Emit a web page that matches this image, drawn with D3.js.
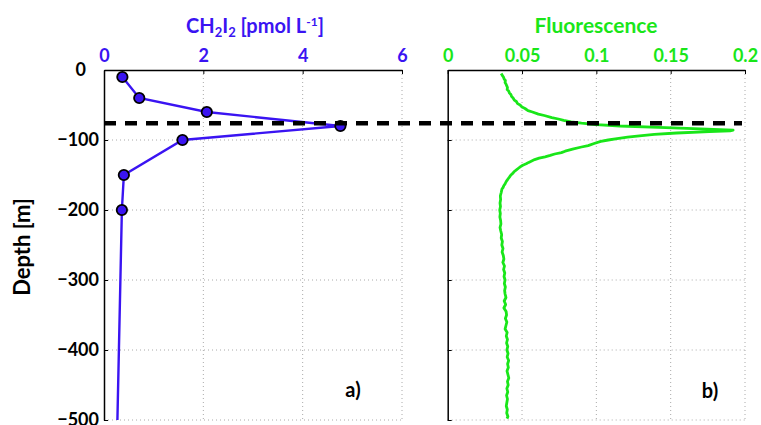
<!DOCTYPE html>
<html>
<head>
<meta charset="utf-8">
<script src="https://cdn.jsdelivr.net/npm/d3@7"></script>
<style>
  body { margin: 0; background: #fff; }
  text { font-family: Lato, "Open Sans", sans-serif; font-weight: 700; }
</style>
</head>
<body>
<div id="chart"></div>
<script>
// CH2I2 profile (pmol/L vs depth m)
var ch2i2Depth = [-10, -40, -60, -80, -100, -150, -200, -500];
var ch2i2Value = [0.37, 0.71, 2.07, 4.76, 1.58, 0.40, 0.36, 0.27];
var ch2i2Marked = [true, true, true, true, true, true, true, false];

// fluorescence profile
var fluoDepth = [-5, -8, -10, -13, -15, -18, -20, -23, -25, -28, -30, -33, -35, -38, -40, -43, -45, -48, -50,
  -53, -55, -58, -60, -63, -65, -68, -70, -72, -74, -76, -78, -80, -82, -84, -86, -87, -88, -90, -92, -94,
  -96, -98, -100, -102, -105, -108, -110, -113, -116, -118, -120, -122, -124, -126, -128, -130, -132, -134,
  -136, -138, -140, -143, -145, -148, -150, -153, -155, -158, -160, -163, -165, -168, -170, -175, -180, -185,
  -190, -195, -200, -205, -210, -215, -220, -225, -230, -235, -240, -245, -250, -255, -260, -265, -270,
  -275, -280, -285, -290, -295, -300, -305, -310, -315, -320, -325, -330, -335, -340, -345, -350, -355,
  -360, -365, -370, -375, -380, -385, -390, -395, -400, -405, -410, -415, -420, -425, -430, -435, -440,
  -445, -450, -455, -460, -465, -470, -475, -480, -485, -490, -495, -498];
var fluoValue = [0.0360, 0.0368, 0.0375, 0.0380, 0.0388, 0.0386, 0.0392, 0.0398, 0.0402, 0.0400, 0.0410, 0.0416,
  0.0425, 0.0430, 0.0440, 0.0448, 0.0462, 0.0470, 0.0487, 0.0500, 0.0520, 0.0540, 0.0570, 0.0610, 0.0650,
  0.0700, 0.0745, 0.0780, 0.0830, 0.0900, 0.1000, 0.1160, 0.1420, 0.1700, 0.1920, 0.1900, 0.1760, 0.1540,
  0.1390, 0.1290, 0.1210, 0.1140, 0.1080, 0.1030, 0.0985, 0.0945, 0.0900, 0.0840, 0.0790, 0.0765, 0.0720,
  0.0690, 0.0655, 0.0615, 0.0585, 0.0565, 0.0545, 0.0528, 0.0505, 0.0490, 0.0478, 0.0460, 0.0448, 0.0436,
  0.0425, 0.0415, 0.0408, 0.0398, 0.0392, 0.0385, 0.0378, 0.0372, 0.0365, 0.0360, 0.0354, 0.0356, 0.0352,
  0.0355, 0.0350, 0.0354, 0.0351, 0.0356, 0.0358, 0.0352, 0.0357, 0.0363, 0.0360, 0.0368, 0.0364, 0.0372,
  0.0366, 0.0374, 0.0378, 0.0371, 0.0382, 0.0376, 0.0384, 0.0379, 0.0386, 0.0381, 0.0388, 0.0383, 0.0386,
  0.0392, 0.0380, 0.0390, 0.0378, 0.0393, 0.0396, 0.0388, 0.0398, 0.0392, 0.0386, 0.0400, 0.0394, 0.0402,
  0.0396, 0.0404, 0.0398, 0.0406, 0.0400, 0.0410, 0.0403, 0.0408, 0.0399, 0.0405, 0.0411, 0.0402, 0.0407,
  0.0398, 0.0404, 0.0396, 0.0402, 0.0398, 0.0394, 0.0401, 0.0397, 0.0405, 0.0399, 0.0402, 0.0397];

var mldDepth = -76;

var depthTicks = [0, -100, -200, -300, -400, -500];
var ch2i2Ticks = [0, 2, 4, 6];
var fluoTicks = [0, 0.05, 0.1, 0.15, 0.2];

var blue = "#3a14f2", green = "#19e619";
var W = 761, H = 425;
var plotTop = 70, plotBottom = 420;

var svg = d3.select("#chart").append("svg")
  .attr("width", W).attr("height", H);

var y = d3.scaleLinear().domain([0, -500]).range([plotTop, plotBottom]);
var xA = d3.scaleLinear().domain([0, 6]).range([104, 402]);
var xB = d3.scaleLinear().domain([0, 0.2]).range([447.7, 745]);

function panel(x, ticks, color, fmt, showY) {
  var g = svg.append("g");
  var x0 = x.range()[0], x1 = x.range()[1];
  // grid
  g.selectAll(".gx").data(ticks.slice(1)).enter().append("line")
    .attr("x1", function(d) { return x(d); }).attr("x2", function(d) { return x(d); })
    .attr("y1", plotTop).attr("y2", plotBottom)
    .attr("stroke", "#aaa").attr("stroke-width", 1).attr("stroke-dasharray", "1,3");
  g.selectAll(".gy").data(depthTicks.slice(1)).enter().append("line")
    .attr("x1", x0).attr("x2", x1)
    .attr("y1", function(d) { return y(d); }).attr("y2", function(d) { return y(d); })
    .attr("stroke", "#aaa").attr("stroke-width", 1).attr("stroke-dasharray", "1,3");

  // top axis
  var ax = g.append("g").attr("transform", "translate(0," + plotTop + ")")
    .call(d3.axisTop(x).tickValues(ticks).tickSizeInner(-4).tickSizeOuter(0).tickPadding(8).tickFormat(fmt));
  ax.select(".domain").attr("stroke", "#000").attr("stroke-width", 1.5);
  ax.selectAll(".tick line").attr("stroke", "#000");
  ax.selectAll(".tick text").attr("fill", color).style("font-size", "18px");

  // left axis
  var ay = g.append("g").attr("transform", "translate(" + x0 + ",0)")
    .call(d3.axisLeft(y).tickValues(depthTicks).tickSizeInner(-4).tickSizeOuter(0).tickPadding(5));
  ay.select(".domain").attr("stroke", "#000").attr("stroke-width", 1.5);
  ay.selectAll(".tick line").attr("stroke", "#000");
  ay.selectAll(".tick text").attr("fill", "#000").style("font-size", "18px");
  if (!showY) ay.selectAll(".tick text").remove();
  else ay.selectAll(".tick text").filter(function(d) { return d === 0; }).attr("dx", -13);
  return g;
}

var gA = panel(xA, ch2i2Ticks, blue, d3.format("d"), true);
var gB = panel(xB, fluoTicks, green, function(d) { return d === 0 ? "0" : String(d); }, false);

// fluorescence line
var fluoPts = fluoDepth.map(function(d, i) { return [fluoValue[i], d]; });
gB.append("path").datum(fluoPts)
  .attr("fill", "none").attr("stroke", green).attr("stroke-width", 2.8)
  .attr("stroke-linejoin", "round")
  .attr("d", d3.line().x(function(d) { return xB(d[0]); }).y(function(d) { return y(d[1]); }));

// CH2I2 line
var chPts = ch2i2Depth.map(function(d, i) { return [ch2i2Value[i], d, ch2i2Marked[i]]; });
gA.append("path").datum(chPts)
  .attr("fill", "none").attr("stroke", blue).attr("stroke-width", 2.4)
  .attr("d", d3.line().x(function(d) { return xA(d[0]); }).y(function(d) { return y(d[1]); }));

// mixed layer dashed line
svg.append("line")
  .attr("x1", xA(0)).attr("x2", xB(0.2) - 3)
  .attr("y1", y(mldDepth)).attr("y2", y(mldDepth))
  .attr("stroke", "#000").attr("stroke-width", 4.5).attr("stroke-dasharray", "12,9");

// markers
gA.selectAll(".pt").data(chPts.filter(function(d) { return d[2]; })).enter().append("circle")
  .attr("cx", function(d) { return xA(d[0]); })
  .attr("cy", function(d) { return y(d[1]); })
  .attr("r", 5.2)
  .attr("fill", blue).attr("stroke", "#000").attr("stroke-width", 1.8);

// titles
var t = svg.append("text").attr("x", 255).attr("y", 33).attr("text-anchor", "middle")
  .attr("fill", blue).style("font-size", "20px");
t.append("tspan").text("CH");
t.append("tspan").attr("dy", 4).style("font-size", "13px").text("2");
t.append("tspan").attr("dy", -4).text("I");
t.append("tspan").attr("dy", 4).style("font-size", "13px").text("2");
t.append("tspan").attr("dy", -4).text(" [pmol L");
t.append("tspan").attr("dy", -7).style("font-size", "12px").text("-1");
t.append("tspan").attr("dy", 7).text("]");

svg.append("text").attr("x", 596).attr("y", 33).attr("text-anchor", "middle")
  .attr("fill", green).style("font-size", "21px").text("Fluorescence");

svg.append("text").attr("transform", "translate(30,247) rotate(-90)")
  .attr("text-anchor", "middle").attr("fill", "#000").style("font-size", "22px").text("Depth [m]");

svg.append("text").attr("x", 353).attr("y", 397).attr("text-anchor", "middle")
  .attr("fill", "#000").style("font-size", "20px").text("a)");
svg.append("text").attr("x", 710).attr("y", 398).attr("text-anchor", "middle")
  .attr("fill", "#000").style("font-size", "20px").text("b)");
</script>
</body>
</html>
